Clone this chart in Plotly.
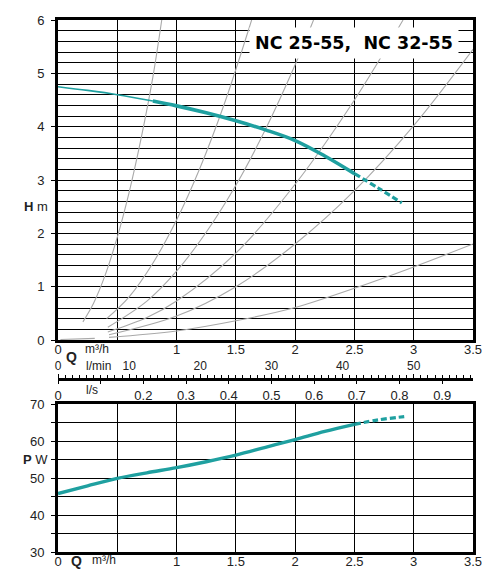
import plotly.graph_objects as go

# ---------------- data ----------------
# Head curve H (m) vs Q (m3/h)
head_q_thin = [0.0, 0.25, 0.5, 0.8]
head_h_thin = [4.75, 4.68, 4.60, 4.48]
head_q = [0.8, 1.0, 1.25, 1.5, 1.75, 2.0, 2.25, 2.5]
head_h = [4.48, 4.39, 4.26, 4.11, 3.94, 3.74, 3.45, 3.12]
head_q_dash = [2.5, 2.7, 2.9]
head_h_dash = [3.12, 2.85, 2.57]

# Power curve P (W) vs Q (m3/h)
pow_q = [0.0, 0.25, 0.5, 0.75, 1.0, 1.25, 1.5, 1.75, 2.0, 2.25, 2.5]
pow_p = [45.8, 47.9, 49.9, 51.4, 52.8, 54.4, 56.2, 58.3, 60.4, 62.6, 64.5]
pow_q_dash = [2.5, 2.7, 2.92]
pow_p_dash = [64.5, 65.7, 66.6]

# System curves (gray)
sys_curves = [
    ([0.21, 0.3, 0.4, 0.5, 0.6, 0.7, 0.8, 0.875], [0.34, 0.69, 1.23, 1.93, 2.77, 3.77, 4.93, 6.0]),
    ([0.41, 0.6, 0.8, 1.0, 1.2, 1.4, 1.633], [0.40, 0.81, 1.44, 2.25, 3.24, 4.41, 6.0]),
    ([0.42, 0.75, 1.0, 1.25, 1.5, 1.75, 2.0, 2.155], [0.24, 0.73, 1.29, 2.02, 2.90, 3.95, 5.16, 6.0]),
    ([0.42, 0.75, 1.0, 1.5, 2.0, 2.5, 2.91], [0.15, 0.42, 0.73, 1.63, 2.92, 4.50, 6.0]),
    ([0.43, 1.0, 1.5, 2.0, 2.5, 3.0, 3.5], [0.10, 0.45, 1.0, 1.80, 2.80, 4.02, 5.45]),
    ([0.43, 1.0, 1.5, 2.0, 2.5, 3.0, 3.5], [0.05, 0.17, 0.36, 0.61, 0.97, 1.37, 1.80]),
    ([0.02, 0.31], [0.01, 0.03]),
]

q_tickvals = [0, 0.5, 1, 1.5, 2, 2.5, 3, 3.5]
q_ticktext = ["0", "", "1", "1.5", "2", "2.5", "3", "3.5"]
h_tickvals = [0, 1, 2, 3, 4, 5, 6]
p_tickvals = [30, 40, 50, 60, 70]
lmin_tickvals = [0, 10, 20, 30, 40, 50]
ls_tickvals = [0, 0.1, 0.2, 0.3, 0.4, 0.5, 0.6, 0.7, 0.8, 0.9]
ls_ticktext = ["0", "", "0.2", "0.3", "0.4", "0.5", "0.6", "0.7", "0.8", "0.9"]

TEAL = "#1fa0a0"
GRAY = "#a9a9a9"
FONT = "Liberation Sans"
TXT = "#222222"

fig = go.Figure()

for qs, hs in sys_curves:
    fig.add_trace(go.Scatter(x=qs, y=hs, mode="lines", line=dict(color=GRAY, width=1.1, shape="spline"),
                             xaxis="x", yaxis="y", hoverinfo="skip", showlegend=False))

fig.add_trace(go.Scatter(x=head_q_thin, y=head_h_thin, mode="lines", line=dict(color=TEAL, width=1.6, shape="spline"),
                         xaxis="x", yaxis="y", showlegend=False))
fig.add_trace(go.Scatter(x=head_q, y=head_h, mode="lines", line=dict(color=TEAL, width=3.6, shape="spline"),
                         xaxis="x", yaxis="y", showlegend=False))
fig.add_trace(go.Scatter(x=head_q_dash, y=head_h_dash, mode="lines",
                         line=dict(color=TEAL, width=3.2, dash="6px,3px", shape="spline"),
                         xaxis="x", yaxis="y", showlegend=False))

fig.add_trace(go.Scatter(x=pow_q, y=pow_p, mode="lines", line=dict(color=TEAL, width=3.4, shape="spline"),
                         xaxis="x2", yaxis="y2", showlegend=False))
fig.add_trace(go.Scatter(x=pow_q_dash, y=pow_p_dash, mode="lines",
                         line=dict(color=TEAL, width=3.2, dash="6px,3px", shape="spline"),
                         xaxis="x2", yaxis="y2", showlegend=False))

# dummy traces for the auxiliary flow scales
fig.add_trace(go.Scatter(x=[None], y=[None], xaxis="x3", yaxis="y", showlegend=False))
fig.add_trace(go.Scatter(x=[None], y=[None], xaxis="x4", yaxis="y", showlegend=False))

# page has an 8px body margin: figure is sized to fit the 496x586 window
OFF = 8
W, H = 496 - OFF, 586 - OFF
ML, MT = 58 - OFF, 20 - OFF
MR = W - (473 - OFF)
MB = H - (552 - OFF)
PH = H - MT - MB


def py(px):
    """page pixel y (reference) -> paper fraction"""
    return (H - MB - (px - OFF)) / PH


frame = dict(showline=True, linewidth=3, linecolor="black", mirror=True, zeroline=False)
tickf = dict(family=FONT, size=13, color=TXT)
tickf_s = dict(family=FONT, size=12, color=TXT)

fig.update_layout(
    width=W, height=H,
    margin=dict(l=ML, r=MR, t=MT, b=MB, autoexpand=False),
    paper_bgcolor="white", plot_bgcolor="white",
    showlegend=False,
    xaxis=dict(domain=[0, 1], range=[0, 3.5], anchor="y", tickvals=q_tickvals, ticktext=q_ticktext,
               showgrid=True, gridcolor="black", gridwidth=1.3, ticks="",
               tickfont=tickf, ticklabelstandoff=-5, **frame),
    yaxis=dict(domain=[py(340), 1], range=[0, 6], anchor="x", tickvals=h_tickvals,
               showgrid=True, gridcolor="black", gridwidth=1.3, ticks="outside", ticklen=4,
               tickcolor="black", tickfont=tickf, ticklabelstandoff=4,
               minor=dict(dtick=0.2, showgrid=True, gridcolor="black", gridwidth=1.3), **frame),
    xaxis2=dict(domain=[0, 1], range=[0, 3.5], anchor="y2", tickvals=q_tickvals, ticktext=q_ticktext,
                showgrid=True, gridcolor="black", gridwidth=1.3, ticks="",
                tickfont=tickf, ticklabelstandoff=-5, **frame),
    yaxis2=dict(domain=[0, py(404)], range=[30, 70], anchor="x2", tickvals=p_tickvals,
                showgrid=True, gridcolor="black", gridwidth=1.3, ticks="outside", ticklen=4,
                tickcolor="black", tickfont=tickf, ticklabelstandoff=4,
                minor=dict(dtick=5, showgrid=True, gridcolor="black", gridwidth=1.3,
                           ticks="outside", ticklen=4, tickcolor="black"), **frame),
    xaxis3=dict(overlaying="x", anchor="free", position=py(379), side="top", range=[0, 3.5 * 1000 / 60],
                tickvals=lmin_tickvals, ticks="outside", ticklen=4, tickcolor="black", tickwidth=1,
                showline=True, linewidth=3, linecolor="black", showgrid=False, zeroline=False,
                tickfont=tickf_s, ticklabelstandoff=-1,
                minor=dict(dtick=1, ticks="outside", ticklen=3, tickcolor="black", showgrid=False)),
    xaxis4=dict(overlaying="x", anchor="free", position=py(379), side="bottom", range=[0, 3.5 / 3.6],
                tickvals=ls_tickvals, ticktext=ls_ticktext, ticks="outside", ticklen=4,
                tickcolor="black", tickwidth=1.2, showline=False, showgrid=False, zeroline=False,
                tickfont=tickf),
)

ann = []
ann.append(dict(x=2.5, y=5.57, xref="x", yref="y", text="<b>NC 25-55,\u00a0 NC 32-55</b>",
                showarrow=False, font=dict(family="DejaVu Sans", size=17.5, color="black"),
                bgcolor="white", borderpad=5, xanchor="center", yanchor="middle"))
ann.append(dict(x=0, xshift=-8, y=2.5, xref="paper", yref="y", text="<b>H</b> m", showarrow=False,
                xanchor="right", yanchor="middle", font=dict(family=FONT, size=13, color=TXT)))
ann.append(dict(x=0, xshift=-8, y=55, xref="paper", yref="y2", text="<b>P</b> W", showarrow=False,
                xanchor="right", yanchor="middle", font=dict(family=FONT, size=13, color=TXT)))
# Q labels for top chart scales
ann.append(dict(x=0.11, y=py(357), xref="x", yref="paper", text="<b>Q</b>", showarrow=False,
                xanchor="center", yanchor="middle", font=dict(family=FONT, size=14, color=TXT)))
ann.append(dict(x=0.21, y=py(349), xref="x", yref="paper", text="m³/h", showarrow=False,
                xanchor="left", yanchor="middle", font=dict(family=FONT, size=12, color=TXT)))
ann.append(dict(x=0.22, y=py(366), xref="x", yref="paper", text="l/min", showarrow=False,
                xanchor="left", yanchor="middle", font=dict(family=FONT, size=12, color=TXT)))
ann.append(dict(x=0.22, y=py(390), xref="x", yref="paper", text="l/s", showarrow=False,
                xanchor="left", yanchor="middle", font=dict(family=FONT, size=12, color=TXT)))
# Q label for bottom chart
ann.append(dict(x=0.16, y=py(561), xref="x2", yref="paper", text="<b>Q</b>", showarrow=False,
                xanchor="center", yanchor="middle", font=dict(family=FONT, size=14, color=TXT)))
ann.append(dict(x=0.27, y=py(560), xref="x2", yref="paper", text="m³/h", showarrow=False,
                xanchor="left", yanchor="middle", font=dict(family=FONT, size=12, color=TXT)))
fig.update_layout(annotations=ann)

fig.write_html("out.html")
